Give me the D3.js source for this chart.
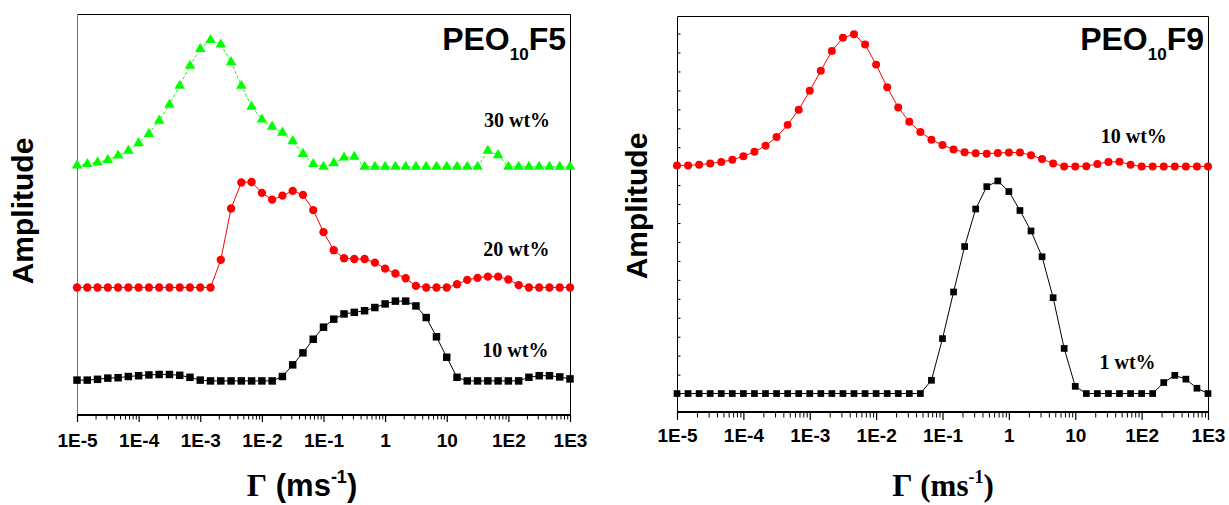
<!DOCTYPE html>
<html>
<head>
<meta charset="utf-8">
<script src="https://cdn.jsdelivr.net/npm/d3@7"></script>
<style>
  html, body { margin: 0; padding: 0; background: #fff; }
  svg { display: block; }
</style>
</head>
<body>
<svg id="chart" width="1229" height="505"></svg>
<script>
// Relaxation rate grid (ms^-1), six points per decade
const gammaValues = [
  1.000e-5, 1.468e-5, 2.154e-5, 3.162e-5, 4.642e-5, 6.813e-5,
  1.000e-4, 1.468e-4, 2.154e-4, 3.162e-4, 4.642e-4, 6.813e-4,
  1.000e-3, 1.468e-3, 2.154e-3, 3.162e-3, 4.642e-3, 6.813e-3,
  1.000e-2, 1.468e-2, 2.154e-2, 3.162e-2, 4.642e-2, 6.813e-2,
  1.000e-1, 1.468e-1, 2.154e-1, 3.162e-1, 4.642e-1, 6.813e-1,
  1.000, 1.468, 2.154, 3.162, 4.642, 6.813,
  10.00, 14.68, 21.54, 31.62, 46.42, 68.13,
  100.0, 146.8, 215.4, 316.2, 464.2, 681.3,
  1000
];

// x axis decades and their labels
const decadeTicks = [1e-5, 1e-4, 1e-3, 1e-2, 1e-1, 1, 10, 100, 1000];
const decadeLabels = ["1E-5", "1E-4", "1E-3", "1E-2", "1E-1", "1", "10", "1E2", "1E3"];

// PEO10F5 distributions (stacked, arbitrary amplitude)
const f5Wt30 = [
  0.622, 0.626, 0.630, 0.636, 0.647, 0.659, 0.678, 0.701, 0.734, 0.774,
  0.821, 0.871, 0.913, 0.935, 0.924, 0.880, 0.821, 0.769, 0.737, 0.719,
  0.704, 0.683, 0.651, 0.626, 0.619, 0.628, 0.642, 0.644, 0.619, 0.619,
  0.619, 0.619, 0.619, 0.619, 0.619, 0.619, 0.619, 0.619, 0.619, 0.619,
  0.659, 0.648, 0.619, 0.619, 0.619, 0.619, 0.619, 0.619, 0.619
];
const f5Wt20 = [
  0.318, 0.318, 0.318, 0.318, 0.318, 0.318, 0.318, 0.318, 0.318, 0.318,
  0.318, 0.318, 0.318, 0.318, 0.387, 0.515, 0.580, 0.581, 0.554, 0.537,
  0.547, 0.559, 0.549, 0.511, 0.456, 0.411, 0.391, 0.389, 0.389, 0.380,
  0.365, 0.353, 0.341, 0.322, 0.318, 0.318, 0.318, 0.326, 0.337, 0.342,
  0.345, 0.345, 0.338, 0.324, 0.318, 0.318, 0.318, 0.318, 0.318
];
const f5Wt10 = [
  0.087, 0.087, 0.089, 0.092, 0.093, 0.096, 0.098, 0.100, 0.101, 0.101,
  0.099, 0.094, 0.087, 0.085, 0.085, 0.085, 0.085, 0.085, 0.085, 0.085,
  0.096, 0.125, 0.155, 0.189, 0.219, 0.239, 0.252, 0.256, 0.260, 0.268,
  0.277, 0.284, 0.284, 0.272, 0.243, 0.195, 0.144, 0.094, 0.085, 0.085,
  0.085, 0.085, 0.085, 0.085, 0.094, 0.098, 0.098, 0.095, 0.090
];

// PEO10F9 distributions (stacked, arbitrary amplitude)
const f9Wt10 = [
  0.602, 0.602, 0.604, 0.607, 0.611, 0.617, 0.626, 0.638, 0.654, 0.677,
  0.709, 0.749, 0.799, 0.852, 0.904, 0.939, 0.948, 0.921, 0.868, 0.808,
  0.755, 0.717, 0.690, 0.670, 0.656, 0.644, 0.637, 0.634, 0.633, 0.635,
  0.636, 0.636, 0.629, 0.619, 0.607, 0.599, 0.599, 0.600, 0.606, 0.611,
  0.612, 0.604, 0.599, 0.599, 0.599, 0.599, 0.599, 0.599, 0.599
];
const f9Wt1 = [
  0.000, 0.000, 0.000, 0.000, 0.000, 0.000, 0.000, 0.000, 0.000, 0.000,
  0.000, 0.000, 0.000, 0.000, 0.000, 0.000, 0.000, 0.000, 0.000, 0.000,
  0.000, 0.000, 0.000, 0.035, 0.145, 0.268, 0.388, 0.487, 0.546, 0.561,
  0.533, 0.483, 0.429, 0.361, 0.253, 0.119, 0.019, 0.000, 0.000, 0.000,
  0.000, 0.000, 0.000, 0.000, 0.029, 0.048, 0.038, 0.014, 0.000
];

// Minor amplitude ticks on the PEO10F9 panel
const f9AmpTicks = [0, 0.05, 0.10, 0.15, 0.20, 0.25, 0.30, 0.35, 0.40, 0.45,
                    0.50, 0.55, 0.60, 0.65, 0.70, 0.75, 0.80, 0.85, 0.90, 0.95];

const svg = d3.select("#chart");
const SANS = "'Liberation Sans', Arial, Helvetica, sans-serif";
const SERIF = "'Liberation Serif', 'Times New Roman', Times, serif";

function drawPanel(cfg) {
  const x = d3.scaleLog().domain([1e-5, 1e3]).range([cfg.left, cfg.right]);
  const y = d3.scaleLinear().domain(cfg.yDomain).range([cfg.bottom, cfg.top]);
  const g = svg.append("g");

  // frame: top, right and left edges
  g.append("path")
    .attr("d", `M${cfg.left + 0.5},${cfg.bottom} V${cfg.top + 0.5} H${cfg.right + 0.5} V${cfg.bottom}`)
    .attr("fill", "none").attr("stroke", "#000").attr("stroke-width", 1);
  if (cfg.leftEdgeColor) {
    g.append("line")
      .attr("x1", cfg.left + 0.5).attr("x2", cfg.left + 0.5)
      .attr("y1", cfg.top).attr("y2", cfg.bottom)
      .attr("stroke", cfg.leftEdgeColor).attr("stroke-width", 1);
  }

  // minor log ticks
  const minor = x.ticks().filter(v => !decadeTicks.some(d => Math.abs(v / d - 1) < 1e-6));
  g.append("g")
    .attr("transform", `translate(0,${cfg.bottom})`)
    .call(d3.axisBottom(x).tickValues(minor).tickSize(cfg.minorLen).tickFormat(""))
    .call(a => a.select(".domain").remove())
    .selectAll("line").attr("stroke", "#000").attr("stroke-width", 1);

  // decade ticks with labels
  const major = g.append("g")
    .attr("transform", `translate(0,${cfg.bottom})`)
    .call(d3.axisBottom(x).tickValues(decadeTicks).tickSize(cfg.majorLen)
      .tickPadding(cfg.labelPad).tickFormat((d, i) => decadeLabels[i]))
    .call(a => a.select(".domain").remove());
  major.selectAll("line").attr("stroke", "#000").attr("stroke-width", 1.2);
  major.selectAll("text")
    .attr("font-family", SANS).attr("font-weight", "bold")
    .attr("font-size", 19).attr("fill", "#000");

  // bottom axis line
  g.append("line")
    .attr("x1", cfg.left).attr("x2", cfg.right + 1)
    .attr("y1", cfg.bottom).attr("y2", cfg.bottom)
    .attr("stroke", "#000").attr("stroke-width", 2);

  if (cfg.yTicks) {
    g.append("g")
      .attr("transform", `translate(${cfg.left + 0.5},0)`)
      .call(d3.axisLeft(y).tickValues(cfg.yTicks).tickSize(-3).tickFormat(""))
      .call(a => a.select(".domain").remove())
      .selectAll("line").attr("stroke", "#000").attr("stroke-width", 1);
  }

  // curves with markers
  cfg.series.forEach(s => {
    const pts = gammaValues.map((gv, i) => [gv, s.values[i]]);
    const line = d3.line().x(d => x(d[0])).y(d => y(d[1]));
    g.append("path")
      .datum(pts)
      .attr("d", line)
      .attr("fill", "none")
      .attr("stroke", s.color)
      .attr("stroke-width", 1)
      .attr("stroke-dasharray", s.dash || null);
    g.append("g").selectAll("path")
      .data(pts)
      .join("path")
      .attr("transform", d => `translate(${x(d[0])},${y(d[1])})`)
      .attr("d", d3.symbol().type(s.symbol).size(s.size))
      .attr("fill", s.color);
    g.append("text")
      .attr("x", s.labelX).attr("y", s.labelY)
      .attr("font-family", SERIF).attr("font-weight", "bold")
      .attr("font-size", 20).attr("fill", "#000")
      .text(s.label);
  });

  // sample name, e.g. PEO10F5
  const t = g.append("text")
    .attr("x", cfg.right - 4).attr("y", 49.5)
    .attr("text-anchor", "end")
    .attr("font-family", SANS).attr("font-weight", "bold")
    .attr("font-size", 32).attr("fill", "#000");
  t.append("tspan").text("PEO");
  t.append("tspan").attr("dy", 10.5).attr("font-size", 17).text("10");
  t.append("tspan").attr("dy", -10.5).text(cfg.sample);

  // y axis title
  g.append("text")
    .attr("transform", `translate(${cfg.yTitleX},${cfg.yTitleY}) rotate(-90)`)
    .attr("text-anchor", "middle")
    .attr("font-family", SANS).attr("font-weight", "bold")
    .attr("font-size", 30).attr("fill", "#000")
    .text("Amplitude");

  // x axis title: Γ (ms^-1)
  const xt = g.append("text")
    .attr("x", cfg.xTitleX).attr("y", cfg.xTitleY)
    .attr("text-anchor", "middle")
    .attr("font-weight", "bold").attr("fill", "#000");
  xt.append("tspan").attr("font-family", SERIF).attr("font-size", 32).text("\u0393");
  xt.append("tspan").attr("font-family", cfg.xTitleFont).attr("font-size", 31).text(" (ms");
  xt.append("tspan").attr("font-family", cfg.xTitleFont).attr("font-size", 18).attr("dy", -13).text("-1");
  xt.append("tspan").attr("font-family", cfg.xTitleFont).attr("font-size", 31).attr("dy", 13).text(")");
}

drawPanel({
  left: 77, right: 570, top: 14, bottom: 415,
  yDomain: [0, 1],
  leftEdgeColor: "#777",
  minorLen: 4.5, majorLen: 7, labelPad: 11.5,
  sample: "F5",
  yTitleX: 33, yTitleY: 211,
  xTitleX: 302, xTitleY: 496, xTitleFont: SANS,
  series: [
    { values: f5Wt30, color: "#00ff00", symbol: d3.symbolTriangle, size: 48, dash: "3,2",
      label: "30 wt%", labelX: 484, labelY: 126.7 },
    { values: f5Wt20, color: "#ff0000", symbol: d3.symbolCircle, size: 55,
      label: "20 wt%", labelX: 483.3, labelY: 256 },
    { values: f5Wt10, color: "#000000", symbol: d3.symbolSquare, size: 56,
      label: "10 wt%", labelX: 482.3, labelY: 357.3 }
  ]
});

drawPanel({
  left: 677, right: 1208, top: 16, bottom: 412,
  yDomain: [-0.0487, 0.9963],
  yTicks: f9AmpTicks,
  minorLen: 5.5, majorLen: 8, labelPad: 8.5,
  sample: "F9",
  yTitleX: 647, yTitleY: 206,
  xTitleX: 943, xTitleY: 496, xTitleFont: SERIF,
  series: [
    { values: f9Wt10, color: "#ff0000", symbol: d3.symbolCircle, size: 50,
      label: "10 wt%", labelX: 1100.7, labelY: 143.3 },
    { values: f9Wt1, color: "#000000", symbol: d3.symbolSquare, size: 45,
      label: "1 wt%", labelX: 1099.5, labelY: 369.3 }
  ]
});
</script>
</body>
</html>
